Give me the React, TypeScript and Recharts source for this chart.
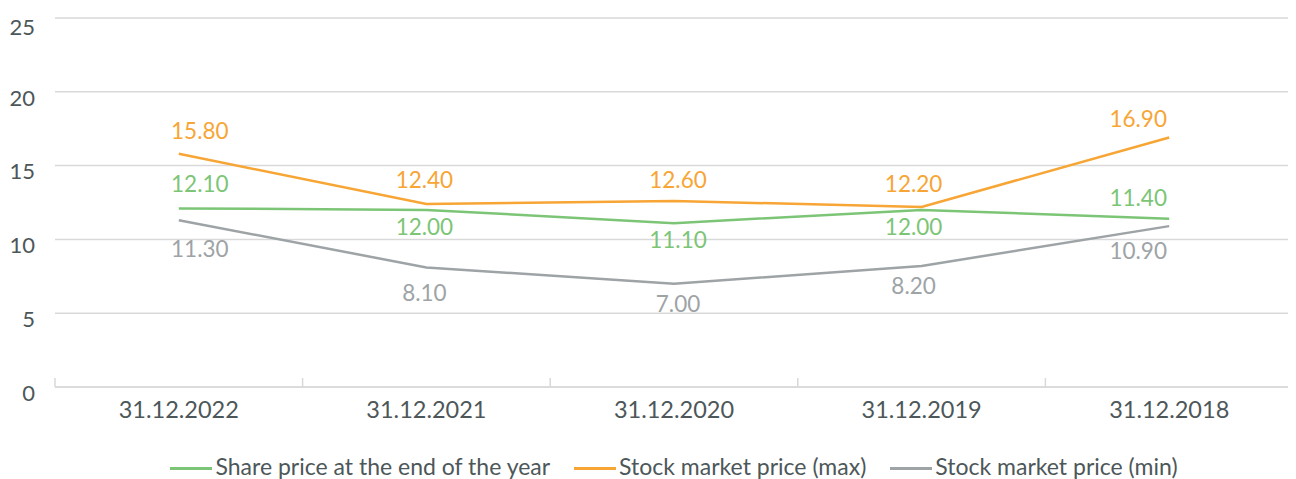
import React from "react";
import { LineChart, Line, XAxis, YAxis, CartesianGrid, Legend } from "recharts";

const categories = ["31.12.2022", "31.12.2021", "31.12.2020", "31.12.2019", "31.12.2018"];
const shareEndOfYear = [12.1, 12.0, 11.1, 12.0, 11.4];
const stockMax = [15.8, 12.4, 12.6, 12.2, 16.9];
const stockMin = [11.3, 8.1, 7.0, 8.2, 10.9];
const yTicks = [0, 5, 10, 15, 20, 25];

const data = categories.map((date, i) => ({
  date,
  share: shareEndOfYear[i],
  max: stockMax[i],
  min: stockMin[i],
}));

const FONT = "Lato, 'Open Sans', sans-serif";
const TEXT = "#4d5759";
const GREEN = "#7cc576";
const ORANGE = "#f7a535";
const GRAY = "#9ea3a6";
const GRID = "#d9d9d9";

const LABEL_DX = [21, -2, 4, -8, -31];
const ORANGE_DY = [-15, -16, -13, -15, -11];
const GREEN_DY = [-16, 25, 25, 25, -13];
const GRAY_DY = [37, 34, 28, 28, 33];
const X_TICK_MARGIN = 14;

const makeLabel = (color: string, dys: number[]) => (props: any) => {
  const { x, y, value, index } = props;
  return (
    <text
      x={x + LABEL_DX[index]}
      y={y + dys[index]}
      fill={color}
      fontSize={22.5}
      fontFamily={FONT}
      textAnchor="middle"
    >
      {Number(value).toFixed(2)}
    </text>
  );
};

const CatTick = (props: any) => {
  const { x, y, payload, index, visibleTicksCount, width } = props;
  const count = visibleTicksCount || categories.length;
  const half =
    payload && typeof payload.offset === "number" && payload.offset > 0
      ? payload.offset
      : width / (2 * count);
  const axisY = y - X_TICK_MARGIN;
  return (
    <g>
      <line x1={x - half} x2={x - half} y1={axisY - 9} y2={axisY} stroke={GRID} strokeWidth={1.5} />
      {index === count - 1 && (
        <line x1={x + half} x2={x + half} y1={axisY - 9} y2={axisY} stroke={GRID} strokeWidth={1.5} />
      )}
      <text x={x} y={y} dy="0.71em" textAnchor="middle" fill={TEXT} fontSize={23.5} fontFamily={FONT}>
        {payload.value}
      </text>
    </g>
  );
};

const legendItems = [
  { name: "Share price at the end of the year", color: GREEN },
  { name: "Stock market price (max)", color: ORANGE },
  { name: "Stock market price (min)", color: GRAY },
];

const LegendContent = () => (
  <div
    style={{
      display: "flex",
      justifyContent: "center",
      alignItems: "center",
      height: 26,
      paddingLeft: 47,
      fontFamily: FONT,
      fontSize: 23,
      color: TEXT,
      gap: 24,
    }}
  >
    {legendItems.map((it) => (
      <div key={it.name} style={{ display: "flex", alignItems: "center" }}>
        <div style={{ width: 42, height: 3, background: it.color, marginRight: 3, marginTop: 4 }} />
        <span style={{ whiteSpace: "nowrap" }}>{it.name}</span>
      </div>
    ))}
  </div>
);

export default function App() {
  return (
    <LineChart
      width={1288}
      height={471}
      data={data}
      margin={{ top: 10, right: 3, left: 0, bottom: 0 }}
    >
      <CartesianGrid vertical={false} stroke={GRID} strokeWidth={1.5} />
      <XAxis
        dataKey="date"
        scale="band"
        height={66}
        axisLine={{ stroke: GRID, strokeWidth: 1.5 }}
        tickLine={false}
        tickSize={0}
        tickMargin={X_TICK_MARGIN}
        interval={0}
        tick={<CatTick />}
      />
      <YAxis
        width={47}
        domain={[0, 25]}
        ticks={yTicks}
        axisLine={false}
        tickLine={false}
        tickSize={0}
        tickMargin={20}
        tick={{ fill: TEXT, fontSize: 22, fontFamily: FONT, dy: 6 }}
      />
      <Legend verticalAlign="bottom" height={26} content={<LegendContent />} />
      <Line
        dataKey="share"
        name="Share price at the end of the year"
        stroke={GREEN}
        strokeWidth={2.5}
        dot={false}
        isAnimationActive={false}
        label={makeLabel(GREEN, GREEN_DY)}
      />
      <Line
        dataKey="max"
        name="Stock market price (max)"
        stroke={ORANGE}
        strokeWidth={2.5}
        dot={false}
        isAnimationActive={false}
        label={makeLabel(ORANGE, ORANGE_DY)}
      />
      <Line
        dataKey="min"
        name="Stock market price (min)"
        stroke={GRAY}
        strokeWidth={2.5}
        dot={false}
        isAnimationActive={false}
        label={makeLabel(GRAY, GRAY_DY)}
      />
    </LineChart>
  );
}
